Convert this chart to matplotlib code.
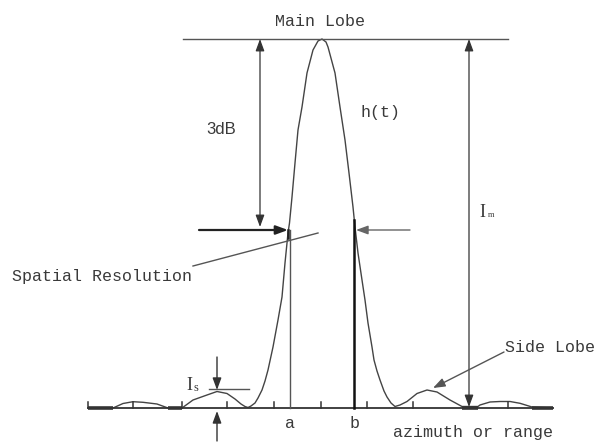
import matplotlib
matplotlib.use("Agg")
import matplotlib.pyplot as plt

# ---- data (pixel-like diagram units) ----
curve_x = [88, 113, 123, 133, 143, 157, 168, 182, 193, 207, 217, 227, 235, 241, 245, 248,
           251, 255, 258, 262, 265, 268, 273, 278, 282, 285, 288, 289.5, 292, 295, 298, 302, 307, 313,
           318, 322, 326, 328, 335, 340, 345, 349, 353, 355, 358, 362, 365, 368, 372,
           374, 377, 380, 384, 387, 391, 395, 400, 407, 417, 427, 437, 450, 462, 478, 480, 490, 500, 510,
           520, 532, 553]
curve_y = [408, 408, 403.5, 401.7, 402.3, 404, 408, 408, 400, 395, 391.5, 393.5, 399, 404, 406.5, 407.5,
           406, 403, 398, 390, 381, 370, 347, 320, 297, 263, 233, 223, 197, 163, 130, 107, 73, 50,
           41, 39, 42, 47, 73, 107, 140, 173, 207, 227, 253, 280, 300, 323, 347,
           360, 371, 380, 391, 397, 403, 406.5, 405, 401.5, 393.5, 390, 392, 400, 406.5, 406.5, 405, 402, 401.5, 401.5,
           403.3, 407, 408]
baseline_y = 408
baseline_x = [88, 553]
thick_segments = [(88, 113), (168, 182), (462, 478), (532, 553)]
tick_x = [88, 133, 182, 227, 274, 321, 367, 413, 508]
top_y = 39
top_x = [183, 508]
a_x, b_x = 290, 354
half_y = 230

labels = {
    "main": "Main Lobe",
    "db": "3dB",
    "ht": "h(t)",
    "sr": "Spatial Resolution",
    "side": "Side Lobe",
    "a": "a",
    "b": "b",
    "axis": "azimuth or range",
}

# ---- drawing ----
fig = plt.figure(figsize=(6.07, 4.43), dpi=100)
ax = fig.add_axes([0, 0, 1, 1])
ax.set_xlim(0, 607)
ax.set_ylim(443, 0)
ax.axis("off")

lc = "#555555"
dark = "#333333"
mono = "Liberation Mono"

# curve
ax.plot(curve_x, curve_y, color="#444444", lw=1.0)
# baseline
ax.plot(baseline_x, [baseline_y, baseline_y], color=dark, lw=1.3)
for x0, x1 in thick_segments:
    ax.plot([x0, x1], [baseline_y, baseline_y], color=dark, lw=2.6, solid_capstyle="butt")
for tx in tick_x:
    ax.plot([tx, tx], [baseline_y, baseline_y - 6], color=dark, lw=1.1)

# top line
ax.plot(top_x, [top_y, top_y], color=lc, lw=1.0)

arrow_kw = dict(arrowstyle="-|>,head_length=0.6,head_width=0.22", color=dark, lw=1.0,
                shrinkA=0, shrinkB=0, mutation_scale=12)
both_kw = dict(arrowstyle="<|-|>,head_length=0.6,head_width=0.22", color=dark, lw=0.9,
               shrinkA=0, shrinkB=0, mutation_scale=12)

# 3dB arrow
ax.annotate("", xy=(260, top_y), xytext=(260, half_y - 3), arrowprops=both_kw)
# Im arrow
ax.annotate("", xy=(469, top_y), xytext=(469, baseline_y - 1), arrowprops=both_kw)

# horizontal arrows at half-power level
ax.annotate("", xy=(288, half_y), xytext=(199, half_y),
            arrowprops=dict(arrowstyle="-|>,head_length=0.6,head_width=0.22", color="#222222",
                            lw=1.6, shrinkA=0, shrinkB=0, mutation_scale=12))
ax.annotate("", xy=(356, half_y), xytext=(410, half_y), arrowprops=dict(arrow_kw, color="#666666"))

# a and b lines
ax.plot([a_x, a_x], [half_y, baseline_y], color=lc, lw=1.0)
ax.plot([a_x - 2, a_x - 2], [half_y, half_y + 8], color="#222222", lw=1.8)
ax.plot([b_x, b_x], [220, baseline_y], color="#111111", lw=1.8)

# spatial resolution leader
ax.plot([193, 318], [266, 233], color=lc, lw=1.0)

# side lobe arrow
ax.annotate("", xy=(433, 388), xytext=(504, 352), arrowprops=dict(arrow_kw, color="#555555"))

# Is markers
ax.annotate("", xy=(217, 390), xytext=(217, 357), arrowprops=arrow_kw)
ax.annotate("", xy=(217, 411), xytext=(217, 441), arrowprops=arrow_kw)
ax.plot([209, 249], [388.5, 388.5], color=lc, lw=1.0)

tc = "#3a3a3a"
fs = 12
ax.text(320, 21, labels["main"], family=mono, fontsize=fs, color=tc, ha="center", va="center")
ax.text(221, 130, labels["db"], family="Liberation Sans", fontsize=fs, color=tc, ha="center", va="center")
ax.text(360, 112, labels["ht"], family=mono, fontsize=fs, color=tc, ha="left", va="center")
ax.text(12, 276, labels["sr"], family=mono, fontsize=fs, color=tc, ha="left", va="center")
ax.text(505, 347, labels["side"], family=mono, fontsize=fs, color=tc, ha="left", va="center")
ax.text(290, 423, labels["a"], family=mono, fontsize=fs, color=tc, ha="center", va="center")
ax.text(355, 423, labels["b"], family=mono, fontsize=fs, color=tc, ha="center", va="center")
ax.text(393, 433, labels["axis"], family=mono, fontsize=fs, color=tc, ha="left", va="center")

# I labels
ax.text(479, 212, "I", family="Liberation Serif", fontsize=13, color=tc, ha="left", va="center")
ax.text(488, 215, "m", family="Liberation Serif", fontsize=6, color=tc, ha="left", va="center")
ax.text(186, 385, "I", family="Liberation Serif", fontsize=13, color=tc, ha="left", va="center")
ax.text(194, 388, "s", family="Liberation Serif", fontsize=9, color=tc, ha="left", va="center")

fig.savefig("out.png", dpi=100)
